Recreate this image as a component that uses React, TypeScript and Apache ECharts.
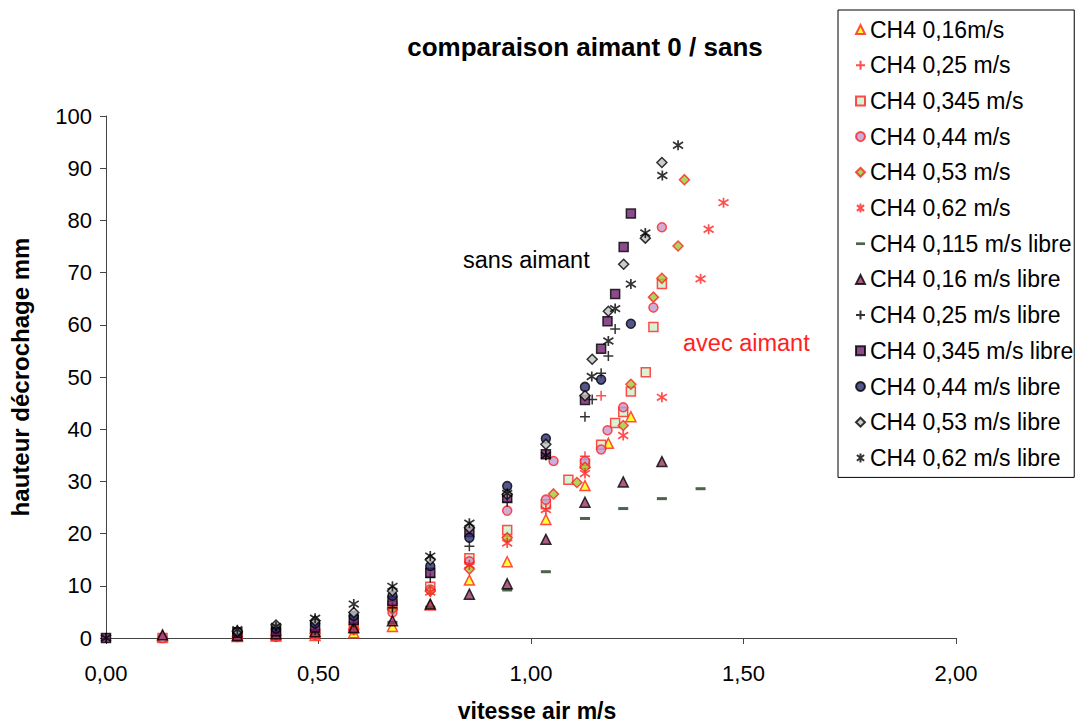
import React, { useEffect, useRef } from 'react';
import * as echarts from 'echarts';

// ---- data: [vitesse air (m/s), hauteur décrochage (mm)] ----
const ch4_016 = [[0.133, 0.3], [0.309, 0.3], [0.4, 0.4], [0.492, 0.5], [0.583, 1.0], [0.674, 2.2], [0.763, 6.3], [0.855, 11.1], [0.944, 14.6], [1.035, 22.7], [1.127, 29.2], [1.182, 37.3], [1.235, 42.4]];
const ch4_025 = [[0.309, 0.2], [0.4, 0.3], [0.492, 0.6], [0.583, 1.5], [0.674, 5.7], [0.763, 9.2], [0.855, 14.2], [0.944, 19.5], [1.035, 25.5], [1.127, 34.8], [1.165, 46.4]];
const ch4_0345 = [[0.133, 0], [0.309, 0.3], [0.4, 0.5], [0.492, 0.8], [0.583, 1.8], [0.674, 6.2], [0.763, 9.8], [0.855, 15.3], [0.944, 20.7], [1.035, 25.6], [1.088, 30.3], [1.127, 33.4], [1.165, 37.0], [1.198, 41.2], [1.217, 43.3], [1.235, 47.2], [1.27, 50.9], [1.288, 59.6], [1.308, 67.8]];
const ch4_044 = [[0.133, 0], [0.309, 0.2], [0.4, 0.2], [0.492, 0.6], [0.583, 1.6], [0.674, 4.9], [0.763, 9.3], [0.855, 14.7], [0.944, 24.4], [1.035, 26.5], [1.053, 33.9], [1.127, 33.9], [1.165, 36.1], [1.18, 39.8], [1.217, 44.2], [1.288, 63.3], [1.308, 78.7]];
const ch4_053 = [[0.309, 0.3], [0.4, 0.5], [0.492, 0.9], [0.583, 1.7], [0.674, 5.5], [0.763, 9.0], [0.855, 13.2], [0.944, 19.2], [1.053, 27.6], [1.108, 29.8], [1.127, 32.7], [1.217, 40.7], [1.235, 48.6], [1.288, 65.3], [1.308, 68.9], [1.346, 75.1], [1.361, 87.8]];
const ch4_062 = [[0.309, 0.3], [0.4, 0.5], [0.492, 1.0], [0.583, 2.0], [0.674, 6.0], [0.763, 8.8], [0.855, 14.0], [0.944, 18.2], [1.035, 24.6], [1.127, 31.5], [1.217, 38.8], [1.308, 46.1], [1.399, 68.8], [1.418, 78.3], [1.453, 83.4]];
const libre_0115 = [[0.674, 3.0], [0.763, 5.9], [0.944, 9.2], [1.035, 12.7], [1.127, 22.9], [1.217, 24.8], [1.308, 26.7], [1.399, 28.6]];
const libre_016 = [[0.133, 0.6], [0.309, 0.5], [0.4, 0.8], [0.492, 1.2], [0.583, 2.0], [0.674, 3.3], [0.763, 6.5], [0.855, 8.4], [0.944, 10.4], [1.035, 18.9], [1.127, 26.0], [1.217, 29.9], [1.308, 33.8]];
const libre_025 = [[0.309, 1.0], [0.4, 1.3], [0.492, 1.6], [0.583, 3.0], [0.674, 5.8], [0.763, 11.6], [0.855, 17.6], [0.944, 26.1], [1.035, 35.0], [1.127, 42.4], [1.144, 45.7], [1.165, 50.7], [1.182, 54.0], [1.198, 59.2]];
const libre_0345 = [[0, 0], [0.309, 1.0], [0.4, 1.3], [0.492, 2.0], [0.583, 3.5], [0.674, 7.1], [0.763, 12.5], [0.855, 20.3], [0.944, 26.8], [1.035, 35.2], [1.127, 45.6], [1.165, 55.4], [1.18, 60.7], [1.198, 65.9], [1.218, 74.9], [1.235, 81.3]];
const libre_044 = [[0.309, 1.2], [0.4, 1.8], [0.492, 2.8], [0.583, 4.2], [0.674, 8.1], [0.763, 13.8], [0.855, 19.2], [0.944, 29.1], [1.035, 38.2], [1.127, 48.1], [1.165, 49.5], [1.235, 60.2]];
const libre_053 = [[0.309, 1.3], [0.4, 2.5], [0.492, 3.3], [0.583, 4.9], [0.674, 9.0], [0.763, 15.0], [0.855, 21.1], [0.944, 27.5], [1.035, 37.1], [1.127, 46.4], [1.144, 53.4], [1.182, 62.6], [1.218, 71.6], [1.269, 76.6], [1.308, 91.1]];
const libre_062 = [[0, 0], [0.309, 1.6], [0.4, 2.2], [0.492, 3.8], [0.583, 6.5], [0.674, 9.9], [0.763, 15.7], [0.855, 22.0], [0.944, 27.7], [1.035, 35.0], [1.143, 50.1], [1.182, 56.9], [1.198, 63.1], [1.235, 67.8], [1.269, 77.6], [1.309, 88.6], [1.346, 94.4]];

const seriesNames = [
  'CH4 0,16m/s', 'CH4 0,25 m/s', 'CH4 0,345 m/s', 'CH4 0,44 m/s', 'CH4 0,53 m/s', 'CH4 0,62 m/s',
  'CH4 0,115 m/s libre', 'CH4 0,16 m/s libre', 'CH4 0,25 m/s libre', 'CH4 0,345 m/s libre',
  'CH4 0,44 m/s libre', 'CH4 0,53 m/s libre', 'CH4 0,62 m/s libre',
];
const seriesData = [ch4_016, ch4_025, ch4_0345, ch4_044, ch4_053, ch4_062, libre_0115, libre_016, libre_025, libre_0345, libre_044, libre_053, libre_062];

const chartTitle = 'comparaison aimant 0 / sans';
const xName = 'vitesse air m/s';
const yName = 'hauteur décrochage mm';
const noteSans = 'sans aimant';
const noteAvec = 'avec aimant';

const FONT = '"Liberation Sans", Arial, sans-serif';
const RED = '#ff2222';
const PLUS = 'path://M5,0L5,10M0,5L10,5';
const STAR = 'path://M5,0L5,10M1,1.8L9,8.2M9,1.8L1,8.2';
const DASH = 'path://M0,0L10,0L10,3L0,3Z';

const styles: any[] = [
  { symbol: 'triangle', size: 10, itemStyle: { color: '#ffff00', borderColor: RED, borderWidth: 1.5 } },
  { symbol: PLUS, size: 10, itemStyle: { color: RED, borderColor: RED, borderWidth: 1.5 } },
  { symbol: 'rect', size: 9, itemStyle: { color: '#ccf0cc', borderColor: RED, borderWidth: 1.5 } },
  { symbol: 'circle', size: 9, itemStyle: { color: '#c29ad0', borderColor: RED, borderWidth: 1.5 } },
  { symbol: 'diamond', size: 10, itemStyle: { color: '#99cc33', borderColor: RED, borderWidth: 1.5 } },
  { symbol: STAR, size: 10, itemStyle: { color: RED, borderColor: RED, borderWidth: 1.7 } },
  { symbol: DASH, size: [10, 3], itemStyle: { color: '#1f3d1f', borderColor: '#1f3d1f', borderWidth: 0 } },
  { symbol: 'triangle', size: 10, itemStyle: { color: '#993366', borderColor: '#000', borderWidth: 1.5 } },
  { symbol: PLUS, size: 10, itemStyle: { color: '#000', borderColor: '#000', borderWidth: 1.5 } },
  { symbol: 'rect', size: 9, itemStyle: { color: '#6f1f6f', borderColor: '#000', borderWidth: 1.5 } },
  { symbol: 'circle', size: 9, itemStyle: { color: '#2a2a72', borderColor: '#000', borderWidth: 1.5 } },
  { symbol: 'diamond', size: 10, itemStyle: { color: '#c0c0c0', borderColor: '#000', borderWidth: 1.5 } },
  { symbol: STAR, size: 10, itemStyle: { color: '#000', borderColor: '#000', borderWidth: 1.7 } },
];

export default function App() {
  const ref = useRef<HTMLDivElement>(null);
  useEffect(() => {
    const chart = echarts.init(ref.current!, null, { renderer: 'svg' });
    const series = seriesNames.map((name, i) => ({
      name,
      type: 'scatter',
      data: seriesData[i],
      symbol: styles[i].symbol,
      symbolSize: styles[i].size,
      itemStyle: styles[i].itemStyle,
      emphasis: { disabled: true },
      z: 2,
    }));
    chart.setOption({
      animation: false,
      backgroundColor: '#fff',
      textStyle: { fontFamily: FONT },
      grid: { left: 102, top: 116, width: 854, height: 526, containLabel: false },
      xAxis: {
        type: 'value', min: 0, max: 2, interval: 0.5,
        name: xName, nameLocation: 'middle', nameGap: 61,
        nameTextStyle: { fontSize: 23, fontWeight: 'bold', color: '#000', fontFamily: FONT, padding: [0, 0, 0, 12] },
        axisLine: { show: true, onZero: false, lineStyle: { color: '#444', width: 1 } },
        axisTick: { show: true, length: 6, lineStyle: { color: '#444' } },
        axisLabel: { fontSize: 22, color: '#000', margin: 24, fontFamily: FONT, formatter: (v: number) => v.toFixed(2).replace('.', ',') },
        splitLine: { show: false },
      },
      yAxis: {
        type: 'value', min: 0, max: 100, interval: 10,
        name: yName, nameLocation: 'middle', nameGap: 74,
        nameTextStyle: { fontSize: 24, fontWeight: 'bold', color: '#000', fontFamily: FONT },
        axisLine: { show: true, lineStyle: { color: '#444', width: 1 } },
        axisTick: { show: true, length: 6, lineStyle: { color: '#444' } },
        axisLabel: { fontSize: 22, color: '#000', margin: 14, fontFamily: FONT },
        splitLine: { show: false },
      },
      legend: {
        orient: 'vertical', left: 838, top: 10,
        padding: [8, 1, 8, 17], itemGap: 12.7, itemWidth: 9, itemHeight: 9,
        borderColor: '#000', borderWidth: 1, backgroundColor: '#fff',
        textStyle: { fontSize: 23, color: '#000', fontFamily: FONT },
        data: seriesNames,
        selectedMode: false,
      },
      graphic: [
        { type: 'text', x: 585, y: 47, style: { text: chartTitle, font: `bold 26px ${FONT}`, fill: '#000', align: 'center', verticalAlign: 'middle' } },
        { type: 'text', x: 463, y: 260, style: { text: noteSans, font: `23.5px ${FONT}`, fill: '#000', align: 'left', verticalAlign: 'middle' } },
        { type: 'text', x: 683, y: 343, style: { text: noteAvec, font: `23.5px ${FONT}`, fill: RED, align: 'left', verticalAlign: 'middle' } },
      ],
      series,
    });
    return () => chart.dispose();
  }, []);
  return <div ref={ref} style={{ position: 'fixed', left: 0, top: 0, width: 1078, height: 727, background: '#fff' }} />;
}
